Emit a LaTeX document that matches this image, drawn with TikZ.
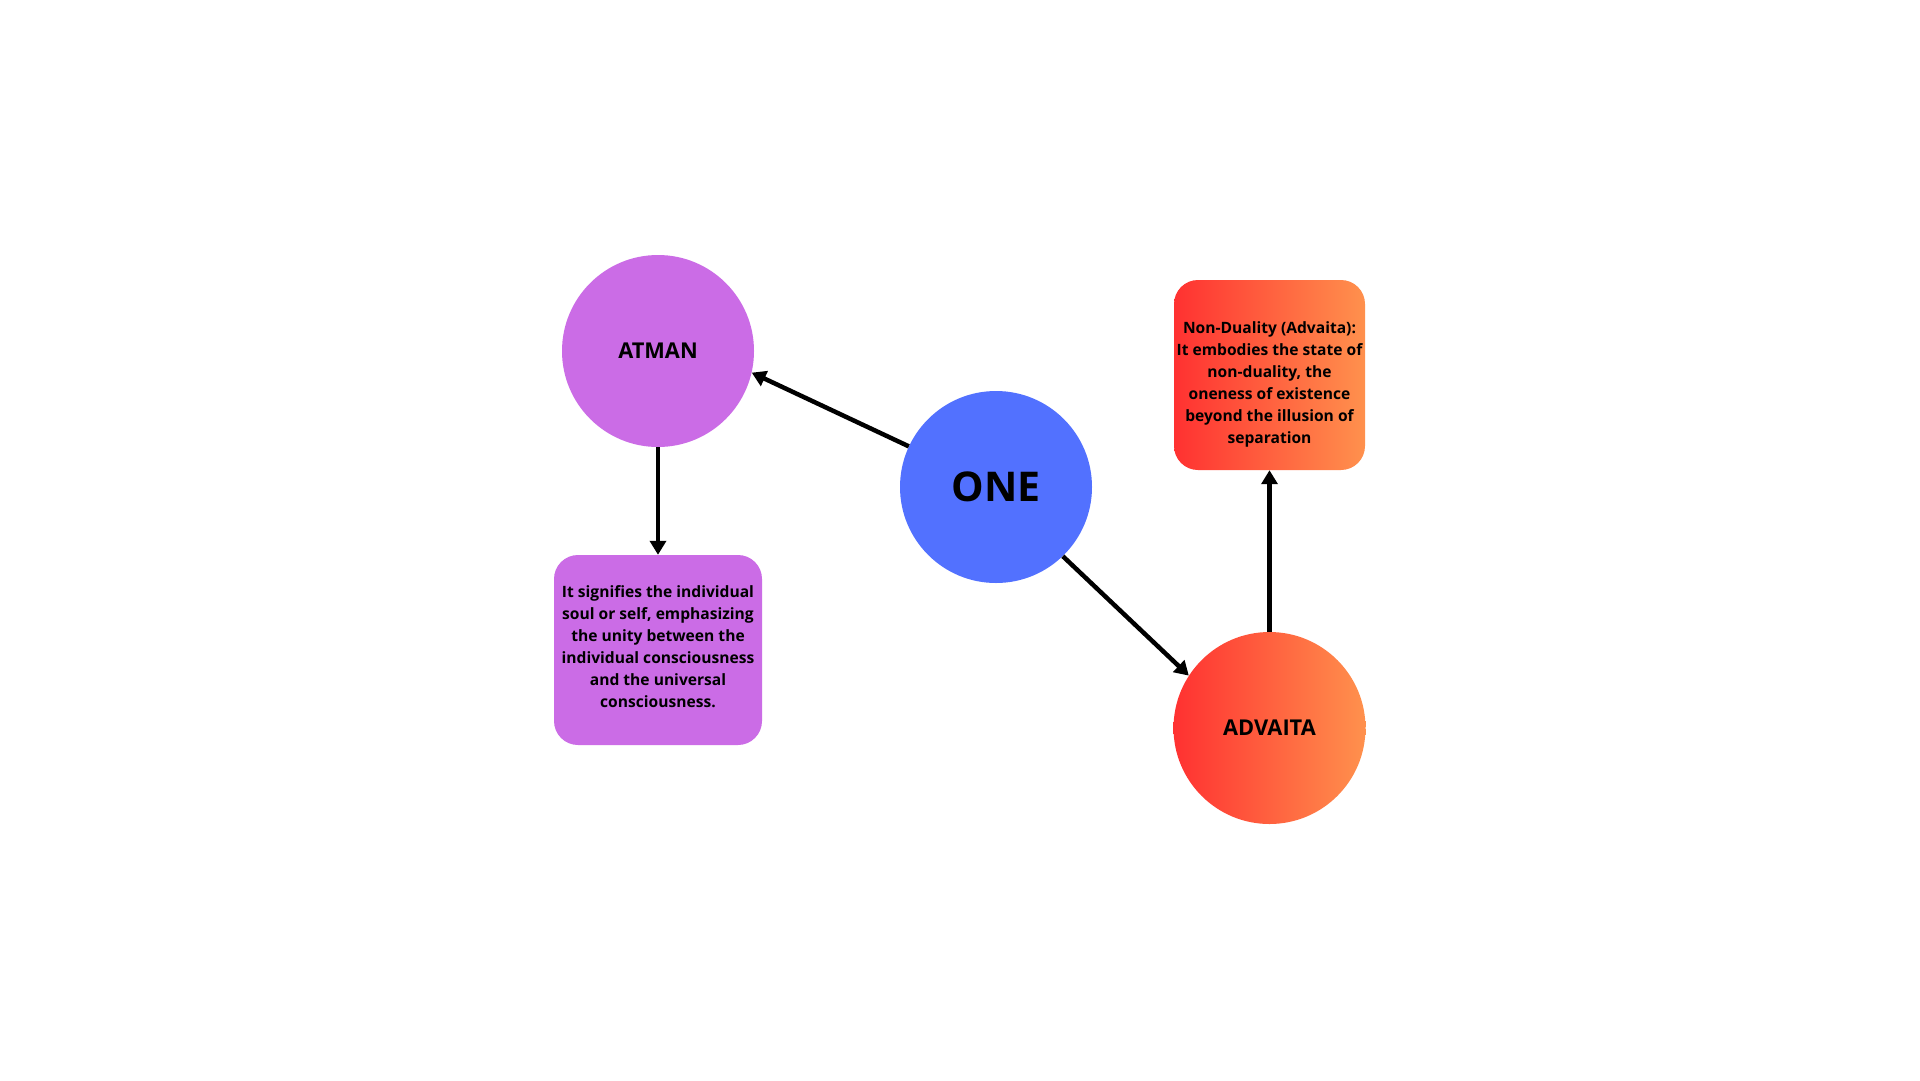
\documentclass[tikz,border=0pt]{standalone}
\usepackage{fontspec}
\setmainfont{Open Sans}
\usetikzlibrary{arrows.meta}
\definecolor{purp}{HTML}{CB6CE6}
\definecolor{blu}{HTML}{5271FF}
\definecolor{redA}{HTML}{FF3131}
\definecolor{orgB}{HTML}{FF914D}
\tikzset{
  bubble/.style={circle, minimum size=192pt, inner sep=0pt, text=black, font=\bfseries\fontsize{21.8}{26}\selectfont},
  infobox/.style={rectangle, rounded corners=24pt, minimum width=208pt, minimum height=190pt, inner sep=0pt},
  boxtext/.style={inner sep=0pt, align=center, text=black, font=\bfseries\fontsize{15.6}{22}\selectfont},
  arr/.style={line width=4.5pt, -{Triangle[length=14pt,width=16pt]}}
}
\begin{document}
\begin{tikzpicture}[x=1pt,y=-1pt]
\useasboundingbox (0,0) rectangle (1920,1080);
\fill[white] (0,0) rectangle (1920,1080);
\node[bubble, fill=purp] (atman) at (658,351) {ATMAN};
\node[bubble, fill=blu, font=\bfseries\fontsize{41}{46}\selectfont] (one) at (996,487) {ONE};
\node[bubble, left color=redA, right color=orgB] (advaita) at (1269.5,728) {ADVAITA};
\node[infobox, fill=purp] (atmanbox) at (658,650) {};
\node[boxtext] (atmantext) at ([yshift=3pt]atmanbox.center) {It signifies the individual\\ soul or self, emphasizing\\ the unity between the\\ individual consciousness\\ and the universal\\ consciousness.};
\node[infobox, left color=redA, right color=orgB, minimum width=191pt] (advbox) at (1269.5,375) {};
\node[boxtext] (advtext) at ([yshift=-9pt]advbox.center) {Non-Duality (Advaita):\\ It embodies the state of\\ non-duality, the\\ oneness of existence\\ beyond the illusion of\\ separation};
\draw[arr] (one.155) -- (atman.-13);
\draw[arr] (atman.south) -- (atmanbox.north);
\draw[arr] (one.-46) -- (advaita.147);
\draw[arr] (advaita.north) -- (advbox.south);
\end{tikzpicture}
\end{document}
